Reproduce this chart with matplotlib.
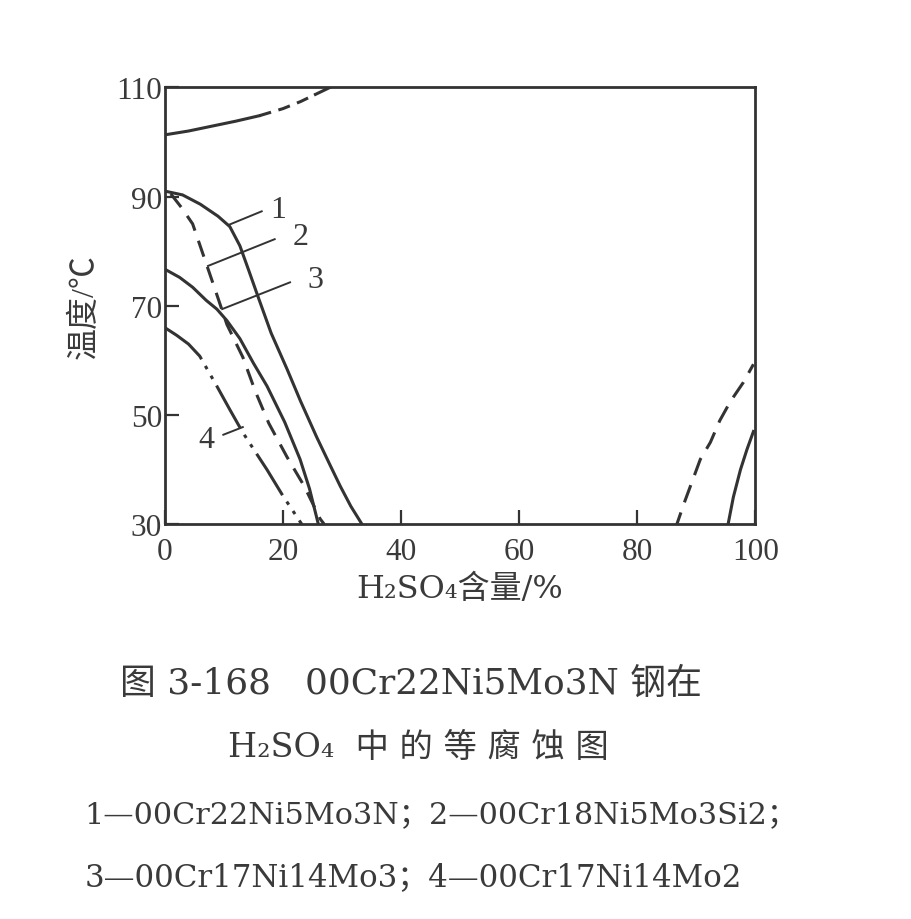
import numpy as np
import matplotlib
matplotlib.use('Agg')
import matplotlib.pyplot as plt

plt.rcParams['font.family'] = ['Liberation Serif', 'Noto Sans CJK SC']
wide = ['DejaVu Serif', 'Noto Sans CJK SC']
ink = '#333333'
txt_ink = '#3a3a3a'

# 等腐蚀线 (H2SO4 含量 %, 温度 ℃)
c1_x = [0, 3, 6, 9, 11, 12.7, 14.2, 16, 18, 20.7, 23, 25.7, 28, 29.7, 31.5, 33.4]
c1_t = [91, 90.3, 88.6, 86.4, 84.5, 81, 76.5, 71, 65, 58.4, 52.5, 46, 40.8, 37, 33.3, 30]

c2_x = [1, 2.8, 4.7, 6.6, 8.5, 10.5, 13.2, 15.3, 17.6, 20.7, 23.6, 26.3, 27.0]
c2_t = [90.5, 88, 85, 79, 73, 66.6, 60.6, 54.4, 48.5, 42.3, 37, 31, 30]

c3_x = [0, 2.5, 4.7, 7.0, 8.8, 10.5, 12.7, 15, 17.3, 20.3, 22.9, 24.5, 26.0]
c3_t = [76.7, 75.2, 73.4, 71, 69.4, 67.3, 64, 59.5, 55.3, 48.7, 41.9, 36.5, 30]

c4_x = [0, 2, 4, 5.9, 8.8, 11, 13.2, 15.3, 17.3, 20, 23.2]
c4_t = [66, 64.6, 63, 60.8, 55.3, 51, 46.8, 43.3, 40, 35.2, 30]

top_x = [0, 4, 8, 12, 16, 20, 23, 25.5, 28]
top_t = [101.3, 102, 102.9, 103.8, 104.8, 106.1, 107.4, 108.7, 110]

rd_x = [86.4, 88, 90.7, 92.4, 94, 95.8, 98, 99.7]
rd_t = [29, 34, 41.9, 45, 49, 52.5, 56, 59.3]

rs_x = [95.4, 96.3, 97.5, 98.6, 99.7]
rs_t = [30, 35, 40, 43.7, 47]

# 曲线编号
lab_txt = ['1', '2', '3', '4']
lab_x = [17.8, 21.7, 24.1, 7.0]
lab_t = [87.7, 82.7, 74.9, 45.6]
lead_x0 = [11, 7.3, 9.7, 9.9]
lead_t0 = [84.9, 77.3, 69.4, 46.4]
lead_x1 = [16.4, 18.6, 21.2, 13.2]
lead_t1 = [87.3, 82.2, 74.3, 47.8]

xticks = [0, 20, 40, 60, 80, 100]
yticks = [30, 50, 70, 90, 110]

fig = plt.figure(figsize=(9.11, 9.2), dpi=100)
ax = fig.add_axes([0.181, 0.429, 0.648, 0.475])

lw = 2.2
ax.plot(c1_x, c1_t, color=ink, lw=lw)
ax.plot(c2_x, c2_t, color=ink, lw=lw, dashes=(5.5, 3.5))
ax.plot(c3_x, c3_t, color=ink, lw=lw)
ax.plot(c4_x, c4_t, color=ink, lw=lw, dashes=(16, 2.5, 1.2, 2.5, 1.2, 2.5))
ax.plot(top_x[:5], top_t[:5], color=ink, lw=lw)
ax.plot(top_x[4:8], top_t[4:8], color=ink, lw=lw, dashes=(4, 2.5))
ax.plot(top_x[7:], top_t[7:], color=ink, lw=lw)
ax.plot(rd_x, rd_t, color=ink, lw=lw, dashes=(6, 3.5))
ax.plot(rs_x, rs_t, color=ink, lw=lw)

for i in range(len(lab_txt)):
    ax.plot([lead_x0[i], lead_x1[i]], [lead_t0[i], lead_t1[i]], color=ink, lw=1.4)
    ax.text(lab_x[i], lab_t[i], lab_txt[i], fontsize=23, color=txt_ink,
            ha='left' if i < 3 else 'center', va='center')

ax.set_xlim(0, 100)
ax.set_ylim(30, 110)
ax.set_xticks(xticks)
ax.set_yticks(yticks)
ax.tick_params(direction='in', length=10, width=1.6, color=ink,
               labelcolor=txt_ink, labelsize=22.5)
ax.tick_params(axis='x', pad=9)
ax.tick_params(axis='y', pad=2)
for s in ax.spines.values():
    s.set_linewidth(2.0)
    s.set_color(ink)

ax.set_xlabel('H₂SO₄含量/%', fontsize=23, color=txt_ink, labelpad=5,
              family=wide)
ax.set_ylabel('温度/℃', fontsize=23, color=txt_ink, labelpad=12)

fig.text(0.132, 0.257, '图 3-168   00Cr22Ni5Mo3N 钢在', fontsize=25.8,
         color=txt_ink, ha='left', va='center', family=wide)
fig.text(0.25, 0.187, 'H₂SO₄  中 的 等 腐 蚀 图', fontsize=24, color=txt_ink,
         ha='left', va='center', family=wide)
fig.text(0.093, 0.114, '1—00Cr22Ni5Mo3N；2—00Cr18Ni5Mo3Si2；', fontsize=21.8,
         color=txt_ink, ha='left', va='center', family=wide)
fig.text(0.093, 0.046, '3—00Cr17Ni14Mo3；4—00Cr17Ni14Mo2', fontsize=22.2,
         color=txt_ink, ha='left', va='center', family=wide)

fig.savefig('out.png', dpi=100, facecolor='white')
